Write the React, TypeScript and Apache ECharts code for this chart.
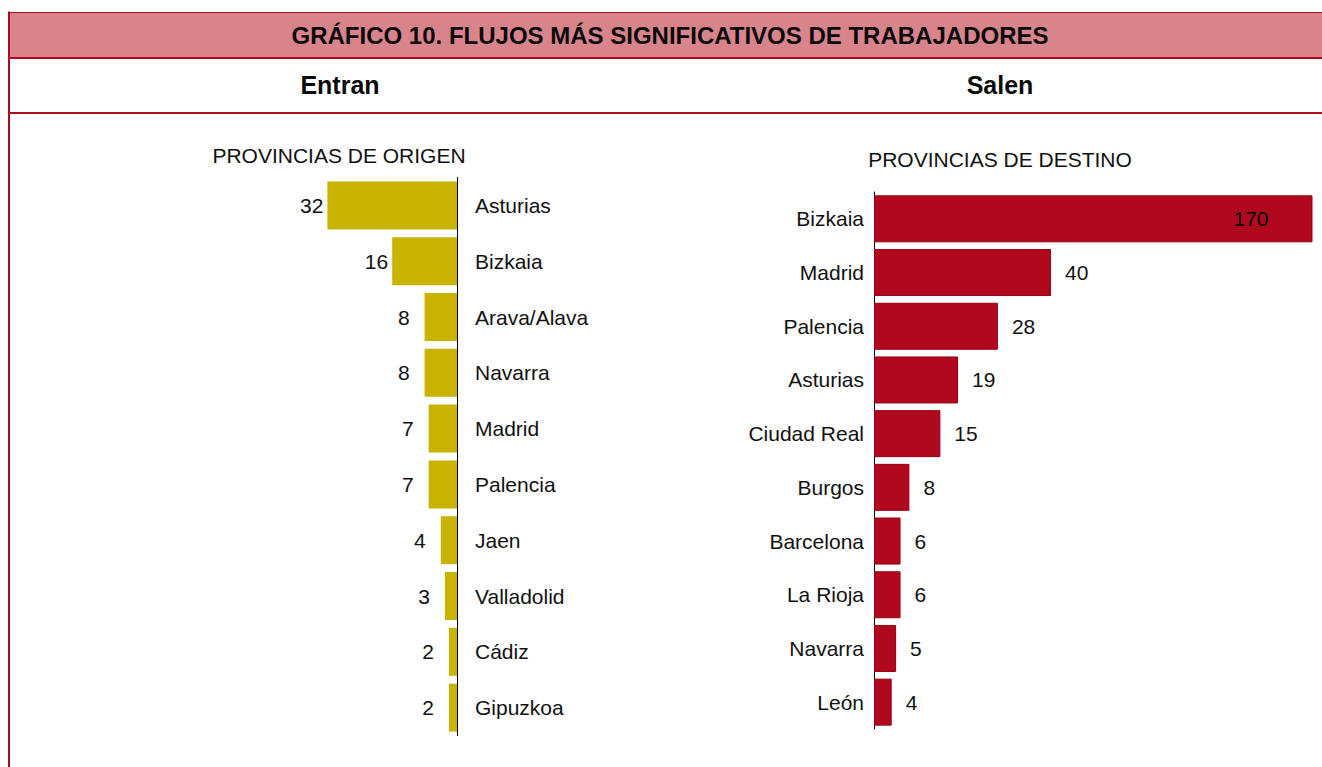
import React, { useEffect, useRef } from "react";
import * as echarts from "echarts";

const mainTitle = "GRÁFICO 10. FLUJOS MÁS SIGNIFICATIVOS DE TRABAJADORES";
const leftHeading = "Entran";
const rightHeading = "Salen";
const leftSubtitle = "PROVINCIAS DE ORIGEN";
const rightSubtitle = "PROVINCIAS DE DESTINO";

const entranCats = ["Asturias", "Bizkaia", "Arava/Alava", "Navarra", "Madrid", "Palencia", "Jaen", "Valladolid", "Cádiz", "Gipuzkoa"];
const entranVals = [32, 16, 8, 8, 7, 7, 4, 3, 2, 2];

const salenCats = ["Bizkaia", "Madrid", "Palencia", "Asturias", "Ciudad Real", "Burgos", "Barcelona", "La Rioja", "Navarra", "León"];
const salenVals = [170, 40, 28, 19, 15, 8, 6, 6, 5, 4];

const FONT = "'Liberation Sans', Arial, sans-serif";
const RED = "#B0081C";
const PINK = "#D9838B";
const YELLOW = "#C8B400";

export default function App() {
  const ref = useRef<HTMLDivElement>(null);
  useEffect(() => {
    if (!ref.current) return;
    const chart = echarts.init(ref.current, undefined, { renderer: "svg" });
    const leftMax = 40;
    const rightMax = 99;
    const option: any = {
      animation: false,
      textStyle: { fontFamily: FONT },
      graphic: [
        { type: "rect", shape: { x: 8, y: 12, width: 1320, height: 46 }, style: { fill: PINK }, silent: true },
        { type: "line", shape: { x1: 8, y1: 12.5, x2: 1322, y2: 12.5 }, style: { stroke: RED, lineWidth: 1 } },
        { type: "line", shape: { x1: 8, y1: 58, x2: 1322, y2: 58 }, style: { stroke: RED, lineWidth: 2 } },
        { type: "line", shape: { x1: 8, y1: 113, x2: 1322, y2: 113 }, style: { stroke: RED, lineWidth: 2 } },
        { type: "line", shape: { x1: 9, y1: 11.5, x2: 9, y2: 767 }, style: { stroke: RED, lineWidth: 2 } },
        { type: "text", x: 670, y: 35, style: { text: mainTitle, fontFamily: FONT, fontSize: 24, fontWeight: "bold", fill: "#0a0a0a", align: "center", verticalAlign: "middle" } },
        { type: "text", x: 340, y: 85, style: { text: leftHeading, fontFamily: FONT, fontSize: 25, fontWeight: "bold", fill: "#0a0a0a", align: "center", verticalAlign: "middle" } },
        { type: "text", x: 1000, y: 85, style: { text: rightHeading, fontFamily: FONT, fontSize: 25, fontWeight: "bold", fill: "#0a0a0a", align: "center", verticalAlign: "middle" } },
        { type: "text", x: 339, y: 155, style: { text: leftSubtitle, fontFamily: FONT, fontSize: 21, fill: "#111", align: "center", verticalAlign: "middle" } },
        { type: "text", x: 1000, y: 159, style: { text: rightSubtitle, fontFamily: FONT, fontSize: 21, fill: "#111", align: "center", verticalAlign: "middle" } },
      ],
      grid: [
        { left: 295, width: 162, top: 177.5, height: 558, containLabel: false, outerBoundsMode: "none" },
        { left: 874, width: 438, top: 192, height: 537, containLabel: false, outerBoundsMode: "none" },
      ],
      xAxis: [
        { type: "value", gridIndex: 0, min: 0, max: leftMax, inverse: true, show: false },
        { type: "value", gridIndex: 1, min: 0, max: rightMax, show: false },
      ],
      yAxis: [
        {
          type: "category", gridIndex: 0, data: entranCats, inverse: true, position: "right",
          axisLine: { show: true, onZero: false, lineStyle: { color: "#000", width: 1 } },
          axisTick: { show: false },
          axisLabel: { margin: 18, fontSize: 21, color: "#111", fontFamily: FONT },
        },
        {
          type: "category", gridIndex: 1, data: salenCats, inverse: true, position: "left",
          axisLine: { show: true, onZero: false, lineStyle: { color: "#000", width: 1 } },
          axisTick: { show: false },
          axisLabel: { margin: 10, fontSize: 21, color: "#111", fontFamily: FONT },
        },
      ],
      series: [
        {
          type: "bar", xAxisIndex: 0, yAxisIndex: 0, barWidth: 48,
          itemStyle: { color: YELLOW },
          label: { show: true, position: "left", distance: 15, fontSize: 21, color: "#111", fontFamily: FONT },
          data: entranVals.map((v) => (v >= 16 ? { value: v, label: { distance: 4 } } : v)),
        },
        {
          type: "bar", xAxisIndex: 1, yAxisIndex: 1, barWidth: 47,
          itemStyle: { color: RED, borderColor: "#9A0012", borderWidth: 1 },
          label: { show: true, position: "right", distance: 14, fontSize: 21, color: "#111", fontFamily: FONT },
          data: salenVals.map((v) => (v > rightMax ? { value: v, label: { position: "insideRight", distance: 44, color: "#000" } } : v)),
        },
      ],
    };
    chart.setOption(option);
    return () => chart.dispose();
  }, []);
  return <div ref={ref} style={{ position: "absolute", left: 0, top: 0, width: 1322, height: 767 }} />;
}
